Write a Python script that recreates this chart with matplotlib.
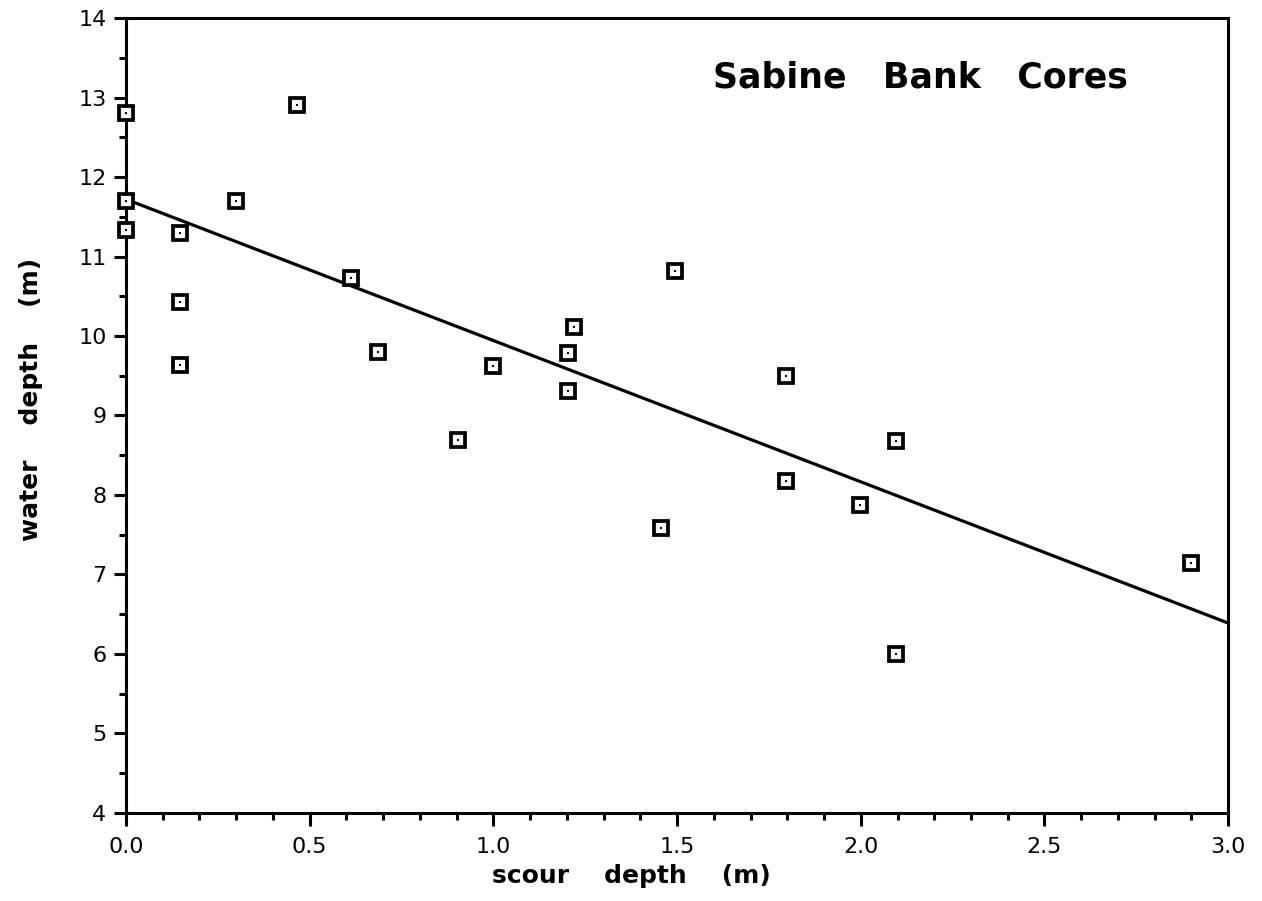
import matplotlib
matplotlib.use("Agg")
import matplotlib.pyplot as plt
import numpy as np
from matplotlib.ticker import MultipleLocator, FormatStrFormatter

scour_depth = [0.0, 0.0, 0.0, 0.147, 0.147, 0.147, 0.30, 0.466, 0.613, 0.686,
               0.904, 1.0, 1.203, 1.22, 1.203, 1.457, 1.495, 1.797, 1.797,
               1.998, 2.096, 2.096, 2.90]
water_depth = [12.8, 11.7, 11.33, 11.3, 10.43, 9.64, 11.7, 12.9, 10.73, 9.80,
               8.69, 9.62, 9.79, 10.11, 9.31, 7.58, 10.82, 9.50, 8.18,
               7.87, 8.68, 6.0, 7.14]
fit_intercept = 11.72
fit_slope = -1.777

plt.rcParams['font.family'] = ['DejaVu Sans']

fig = plt.figure(figsize=(12.62, 9.01), dpi=100)
ax = fig.add_axes([0.0998, 0.0977, 0.8734, 0.8823])

xl = np.array([0.0, 3.0])
ax.plot(xl, fit_intercept + fit_slope * xl, color='black', lw=2.3, zorder=2,
        clip_on=False)
ax.plot(scour_depth, water_depth, linestyle='none', marker='s', markersize=9.5,
        markerfacecolor='white', markeredgecolor='black', markeredgewidth=2.7,
        zorder=3, clip_on=False)
ax.plot(scour_depth, water_depth, linestyle='none', marker='s', markersize=2,
        markerfacecolor='black', markeredgecolor='black', markeredgewidth=0,
        zorder=4, clip_on=False)

ax.set_xlim(0, 3)
ax.set_ylim(4, 14)
ax.xaxis.set_major_locator(MultipleLocator(0.5))
ax.xaxis.set_minor_locator(MultipleLocator(0.1))
ax.yaxis.set_major_locator(MultipleLocator(1))
ax.yaxis.set_minor_locator(MultipleLocator(0.5))
ax.xaxis.set_major_formatter(FormatStrFormatter('%.1f'))

for s in ax.spines.values():
    s.set_linewidth(2.2)

ax.tick_params(axis='x', which='major', pad=8)
ax.tick_params(axis='y', which='major', pad=5)
ax.tick_params(axis='both', which='major', direction='out', length=9, width=2.2,
               labelsize=16, top=False, right=False)
ax.tick_params(axis='both', which='minor', direction='out', length=5, width=2.2,
               top=False, right=False)

ax.set_xlabel('scour    depth    (m)', fontsize=18, fontweight='bold')
ax.xaxis.set_label_coords(0.459, -0.064)
ax.set_ylabel('water    depth    (m)', fontsize=18, fontweight='bold')
ax.yaxis.set_label_coords(-0.0755, 0.52)
ax.text(0.909, 0.913, 'Sabine   Bank   Cores', transform=ax.transAxes,
        fontsize=25, fontweight='bold', ha='right', va='baseline')

fig.savefig('out.png', dpi=100)
